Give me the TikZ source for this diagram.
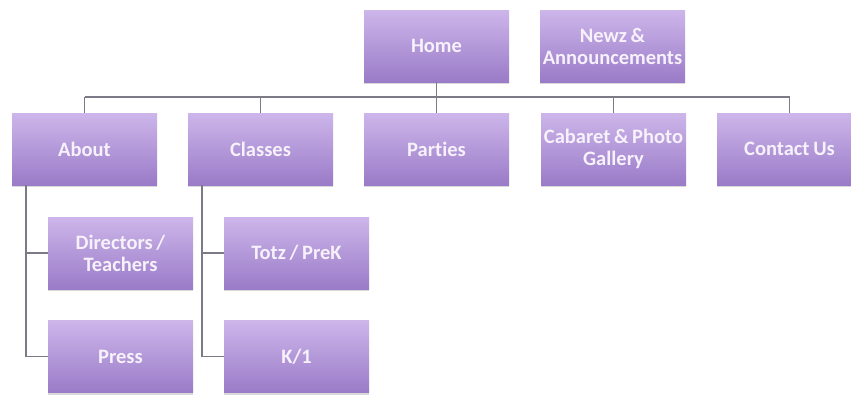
\documentclass[tikz,border=0pt]{standalone}
\usepackage{fontspec}
\setmainfont[Ligatures=NoCommon, WordSpace=0.8]{Carlito}
\usetikzlibrary{shadows}
\definecolor{boxtop}{HTML}{CDB6EA}
\definecolor{boxbot}{HTML}{9A7BC8}
\definecolor{linegray}{HTML}{7C7A86}
\definecolor{txt}{HTML}{F6F1FA}
\begin{document}
\begin{tikzpicture}[x=1pt,y=-1pt,
  box/.style={rectangle, minimum width=145pt, minimum height=72pt, inner sep=0pt,
    top color=boxtop, bottom color=boxbot, draw=none,
    drop shadow={shadow xshift=0pt, shadow yshift=-2pt, opacity=0.25, fill=black!60},
    text=txt, font=\bfseries\fontsize{20.5}{22}\selectfont, align=center},
  conn/.style={draw=linegray, line width=1.8pt}]
\useasboundingbox (0,0) rectangle (851,394);
\fill[white] (0,0) rectangle (851,394);
\coordinate (hl) at (84.5,97);
\coordinate (hr) at (789.5,97);
\coordinate (hc) at (436.5,97);
\coordinate (hn) at (613.5,97);
\coordinate (ha) at (260.5,97);
\node[box] (home) at (436.5,46) {Home};
\node[box] (newz) at (612.5,46) {Newz \&\\Announcements};
\node[box] (about) at (84.5,149) {About};
\node[box] (classes) at (260.5,149) {Classes};
\node[box] (parties) at (436.5,149) {Parties};
\node[box] (cabaret) at (613.5,149) {Cabaret \& Photo\\Gallery};
\node[box] (contact) at (789.5,149) {Contact Us};
\node[box] (directors) at (120.5,253) {Directors /\\Teachers};
\node[box] (press) at (120.5,356.5) {Press};
\node[box] (totz) at (296.5,253) {Totz / PreK};
\node[box] (k1) at (296.5,356.5) {K/1};
\draw[conn] (home.south) -- (hc);
\draw[conn] (hl) -- (hr);
\draw[conn] (hl) -- (about.north);
\draw[conn] (ha) -- (classes.north);
\draw[conn] (hc) -- (parties.north);
\draw[conn] (hn) -- (cabaret.north);
\draw[conn] (hr) -- (contact.north);
\coordinate (av) at (26,149);
\draw[conn] (about.south -| av) |- (directors.west);
\draw[conn] (about.south -| av) |- (press.west);
\coordinate (cv) at (202,149);
\draw[conn] (classes.south -| cv) |- (totz.west);
\draw[conn] (classes.south -| cv) |- (k1.west);
\end{tikzpicture}
\end{document}
